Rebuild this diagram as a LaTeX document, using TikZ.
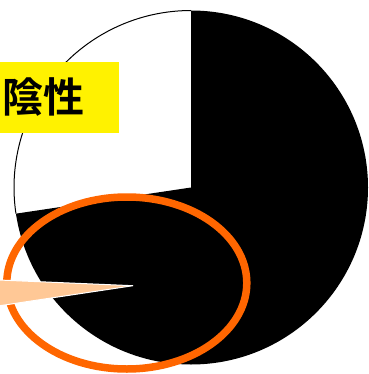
\documentclass[tikz,border=0pt]{standalone}
\usepackage{fontspec}
\newfontfamily\cjk{Noto Sans CJK JP}[BoldFont={Noto Sans CJK JP Bold}]
\begin{document}
\begin{tikzpicture}[x=1pt,y=-1pt,
  labelbox/.style={fill=yellow, inner sep=0pt, minimum width=152pt, minimum height=71pt, font=\cjk\bfseries\fontsize{41}{41}\selectfont},
  ring/.style={draw={rgb,255:red,255;green,102;blue,0}, line width=7.5pt},
  callout/.style={fill={rgb,255:red,255;green,200;blue,150}, draw=white, line width=1pt}]
\useasboundingbox (0,0) rectangle (368,374);
\coordinate (c) at (191,187.5);
% black slice
\fill[black] (c) -- (191,10.5) arc[start angle=-90, end angle=171.5, x radius=177, y radius=177] -- cycle;
% white slice outline
\draw[black, line width=1pt] (191,10.5) arc[start angle=-90, end angle=-188.5, x radius=177, y radius=177];
% label
\node[labelbox] (lbl) at (43,97.5) {陰性};
% orange ring
\draw[ring] (126.8,283) ellipse [x radius=120, y radius=86];
% callout wedge
\coordinate (tip) at (133,285.7);
\fill[callout] (-6,279.8) -- (tip) -- (-6,306.6) -- cycle;
\end{tikzpicture}
\end{document}
